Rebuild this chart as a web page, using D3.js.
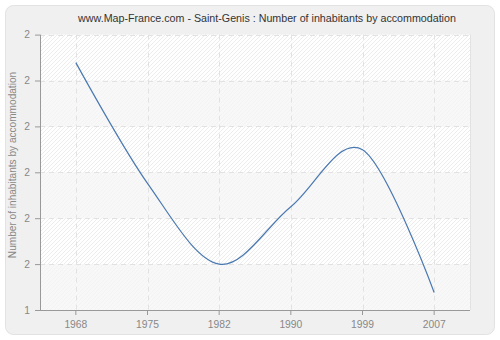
<!DOCTYPE html>
<html><head><meta charset="utf-8">
<script src="https://cdn.jsdelivr.net/npm/d3@7"></script>
<style>
html,body{margin:0;padding:0;background:#fff;}
svg{display:block;}
</style></head>
<body>
<svg id="chart" width="500" height="340"></svg>
<script>
const title = "www.Map-France.com - Saint-Genis : Number of inhabitants by accommodation";
const yAxisTitle = "Number of inhabitants by accommodation";
const years = ["1968","1975","1982","1990","1999","2007"];
const values = [1.939, 1.676, 1.50, 1.625, 1.749, 1.438];
const yTickValues = [1.4, 1.5, 1.6, 1.7, 1.8, 1.9, 2.0];
const yTickLabels = ["1","2","2","2","2","2","2"];

const svg = d3.select("#chart");
const m = {left:40, right:470, top:34.6, bottom:310};
const FONT = "Liberation Sans, Arial, sans-serif";

// outer frame
svg.append("rect").attr("x",5.5).attr("y",5.5).attr("width",489).attr("height",329)
  .attr("rx",8).attr("fill","#f0f0f0").attr("stroke","#e2e2e2");

const defs = svg.append("defs");
const pat = defs.append("pattern").attr("id","hatch").attr("patternUnits","userSpaceOnUse")
  .attr("width",4).attr("height",4);
pat.append("rect").attr("width",4).attr("height",4).attr("fill","#ffffff");
pat.append("path").attr("d","M-1,1 l2,-2 M0,4 l4,-4 M3,5 l2,-2").attr("stroke","#ececec").attr("stroke-width",1);
const pat2 = defs.append("pattern").attr("id","hatch2").attr("patternUnits","userSpaceOnUse")
  .attr("width",4).attr("height",4);
pat2.append("rect").attr("width",4).attr("height",4).attr("fill","#f8f8f8");
pat2.append("path").attr("d","M-1,1 l2,-2 M0,4 l4,-4 M3,5 l2,-2").attr("stroke","#f3f3f3").attr("stroke-width",1);

const x = d3.scaleBand().domain(years).range([m.left, m.right]);
const y = d3.scaleLinear().domain([1.4, 2.0]).range([m.bottom, m.top]);
const cx = d => x(d) + x.bandwidth()/2;

// bands
for (let i = 0; i < yTickValues.length - 1; i++) {
  const y0 = y(yTickValues[i+1]), y1 = y(yTickValues[i]);
  const fromTop = yTickValues.length - 2 - i;
  svg.append("rect").attr("x",m.left).attr("y",y0).attr("width",m.right-m.left).attr("height",y1-y0)
    .attr("fill", fromTop % 2 === 0 ? "url(#hatch)" : "url(#hatch2)");
}

// grid
const grid = svg.append("g").attr("stroke","#e2e2e2").attr("stroke-dasharray","5,4").attr("fill","none");
yTickValues.forEach(v => {
  grid.append("line").attr("x1",m.left).attr("x2",m.right).attr("y1",Math.round(y(v))+0.5).attr("y2",Math.round(y(v))+0.5);
});
years.forEach(yr => {
  grid.append("line").attr("x1",Math.round(cx(yr))+0.5).attr("x2",Math.round(cx(yr))+0.5).attr("y1",m.top).attr("y2",m.bottom);
});
svg.append("line").attr("x1",m.right+0.5).attr("x2",m.right+0.5).attr("y1",m.top).attr("y2",m.bottom).attr("stroke","#e2e2e2");

// axes
const axisColor = "#999";
const xAxis = svg.append("g").attr("transform",`translate(0,${m.bottom})`)
  .call(d3.axisBottom(x).tickSize(5).tickPadding(6));
xAxis.select(".domain").attr("d",`M${m.left-4},0.5H${m.right}`);
const yAxis = svg.append("g").attr("transform",`translate(${m.left},0)`)
  .call(d3.axisLeft(y).tickValues(yTickValues).tickFormat((d,i)=>yTickLabels[i]).tickSize(5).tickPadding(5));
yAxis.select(".domain").attr("d",`M0.5,${m.top}V${m.bottom}`);
[xAxis,yAxis].forEach(a=>{
  a.select(".domain").attr("stroke",axisColor);
  a.selectAll(".tick line").attr("stroke",axisColor);
  a.selectAll("text").attr("fill","#888").attr("font-family",FONT).attr("font-size",10.3);
});

// line
const line = d3.line().x((d,i)=>cx(years[i])).y(d=>y(d)).curve(d3.curveCardinal.tension(0));
svg.append("path").datum(values).attr("d",line).attr("fill","none").attr("stroke","#4a78b0").attr("stroke-width",1.2);

// title
svg.append("text").attr("x",267).attr("y",22).attr("text-anchor","middle")
  .attr("font-family",FONT).attr("font-size",10.7).attr("fill","#333").text(title);
svg.append("text").attr("transform",`translate(16,165) rotate(-90)`).attr("text-anchor","middle")
  .attr("font-family",FONT).attr("font-size",10.1).attr("fill","#888").text(yAxisTitle);
</script>
</body></html>
